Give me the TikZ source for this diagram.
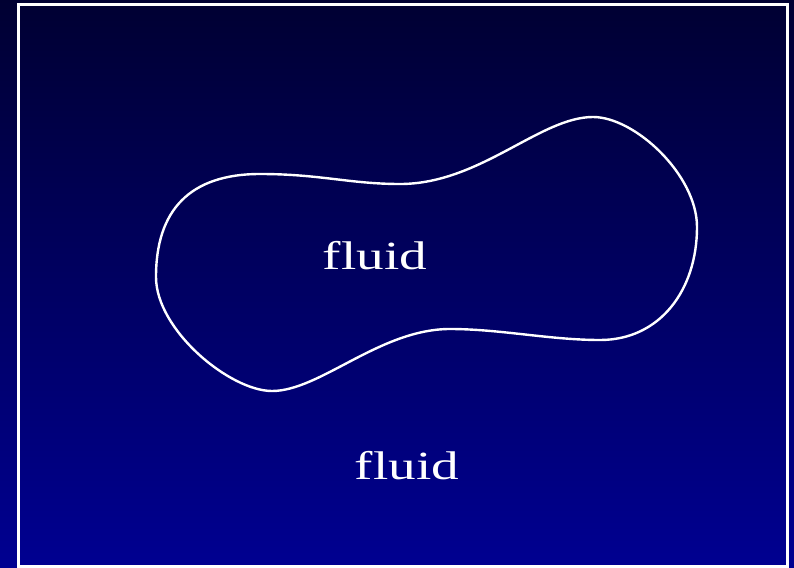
\documentclass[tikz,border=0pt]{standalone}
\usepackage{fontspec}
\setmainfont{Liberation Serif}
\definecolor{topblue}{RGB}{0,0,50}
\definecolor{botblue}{RGB}{0,0,145}
\begin{document}
\begin{tikzpicture}[x=1pt,y=-1pt,
  lbl/.style={text=white,font=\fontsize{40}{40}\selectfont,inner sep=0pt,xscale=1.38}]
\useasboundingbox (0,0) rectangle (794,567);
\shade[top color=topblue,bottom color=botblue] (0,0) rectangle (794,567);
\draw[white,line width=3pt] (18,5) rectangle (787,566);
\draw[white,line width=2.4pt]
 (156,277) .. controls (156,210) and (190,174) .. (260,174)
 .. controls (320,174) and (350,184) .. (400,184)
 .. controls (480,184) and (540,117) .. (593,117)
 .. controls (635,117) and (697,175) .. (697,227)
 .. controls (697,290) and (660,340) .. (600,340)
 .. controls (550,340) and (500,329) .. (450,329)
 .. controls (380,329) and (320,391) .. (272,391)
 .. controls (230,391) and (156,330) .. (156,277) -- cycle;
\node[lbl] (inner) at (375,256) {fluid};
\node[lbl] (outer) at (407,466) {fluid};
\end{tikzpicture}
\end{document}
